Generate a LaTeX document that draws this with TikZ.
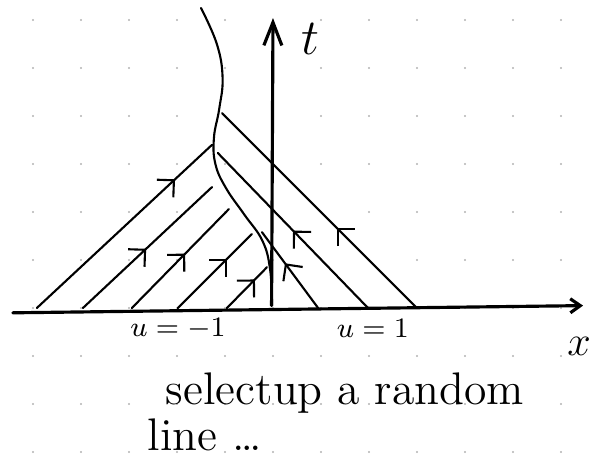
\documentclass[tikz,border=0pt]{standalone}
\usepackage{tikz}
\usetikzlibrary{arrows.meta, decorations.markings}
\tikzset{
  pen/.style      = {line width=0.6pt, line cap=round},
  axisline/.style = {line width=0.9pt, line cap=round},
  flow/.style     = {pen, postaction={decorate},
                     decoration={markings, mark=at position #1 with
                       {\arrow{Straight Barb[length=1.2mm, width=2.4mm, line width=0.6pt]}}}},
  griddot/.style  = {fill=black!30},
  hand/.style     = {inner sep=0pt, font=\fontsize{13}{15}\selectfont},
  ulabel/.style   = {inner sep=0pt, font=\fontsize{8.5}{10}\selectfont},
}

\begin{document}
\begin{tikzpicture}[x=0.48cm, y=0.48cm]
  \useasboundingbox (-5.6875,-3.0625) rectangle (6.8125,6.4167);

  % Grid paper
  \foreach \i in {-5,...,6}
    \foreach \j in {-3,...,6}
      \fill[griddot] (\i,\j) circle (0.35pt);

  % Axes
  \coordinate (O)  at (0,0);
  \coordinate (xl) at (-5.42,-0.1);
  \coordinate (xr) at (6.46,0.05);
  \coordinate (tb) at (-0.03,0.05);
  \coordinate (tt) at (0,6.04);
  \draw[axisline, -{Straight Barb[length=1mm, width=1.4mm]}] (xl) -- (xr);
  \draw[axisline, -{Straight Barb[length=2.3mm, width=1.8mm]}] (tb) -- (tt);
  \node[hand, font=\fontsize{14}{16}\selectfont] (tlab) at (0.77,5.6) {$t$};
  \node[hand] (xlab) at (6.375,-0.81) {$x$};

  % Characteristics from the left
  \foreach \sx/\ex/\ey/\p in {-4.92/-1.27/3.40/0.79, -3.96/-1.27/2.52/0.49,
                              -2.94/-0.92/2.06/0.55, -1.98/-0.44/1.54/0.67,
                              -0.96/-0.125/0.85/0.7}
    \draw[flow=\p] (\sx,0) -- (\ex,\ey);

  % Characteristics from the right
  \foreach \sx/\ex/\ey/\p in {3.0/-1.06/4.06/0.41, 1.98/-1.15/3.23/0.5,
                              0.94/-0.23/1.58/0.59}
    \draw[flow=\p] (\sx,0) -- (\ex,\ey);

  % Shock
  \draw[pen] plot[smooth, tension=0.7] coordinates {(-1.5,6.25) (-1.17,5.5)
    (-1.05,4.8) (-1.12,4.15) (-1.23,3.55) (-1.2,3.0) (-0.98,2.5)
    (-0.6,1.95) (-0.22,1.4) (-0.06,0.8) (-0.02,0.05)};

  % Labels
  \node[ulabel] (um) at (-1.98,-0.44) {$u=-1$};
  \node[ulabel] (up) at (2.08,-0.42)  {$u=1$};
  \node[hand, anchor=base]      (note1) at (1.5,-2.02)    {selectup a random};
  \node[hand, anchor=base west] (note2) at (-2.625,-2.96) {line \dots};
\end{tikzpicture}
\end{document}
